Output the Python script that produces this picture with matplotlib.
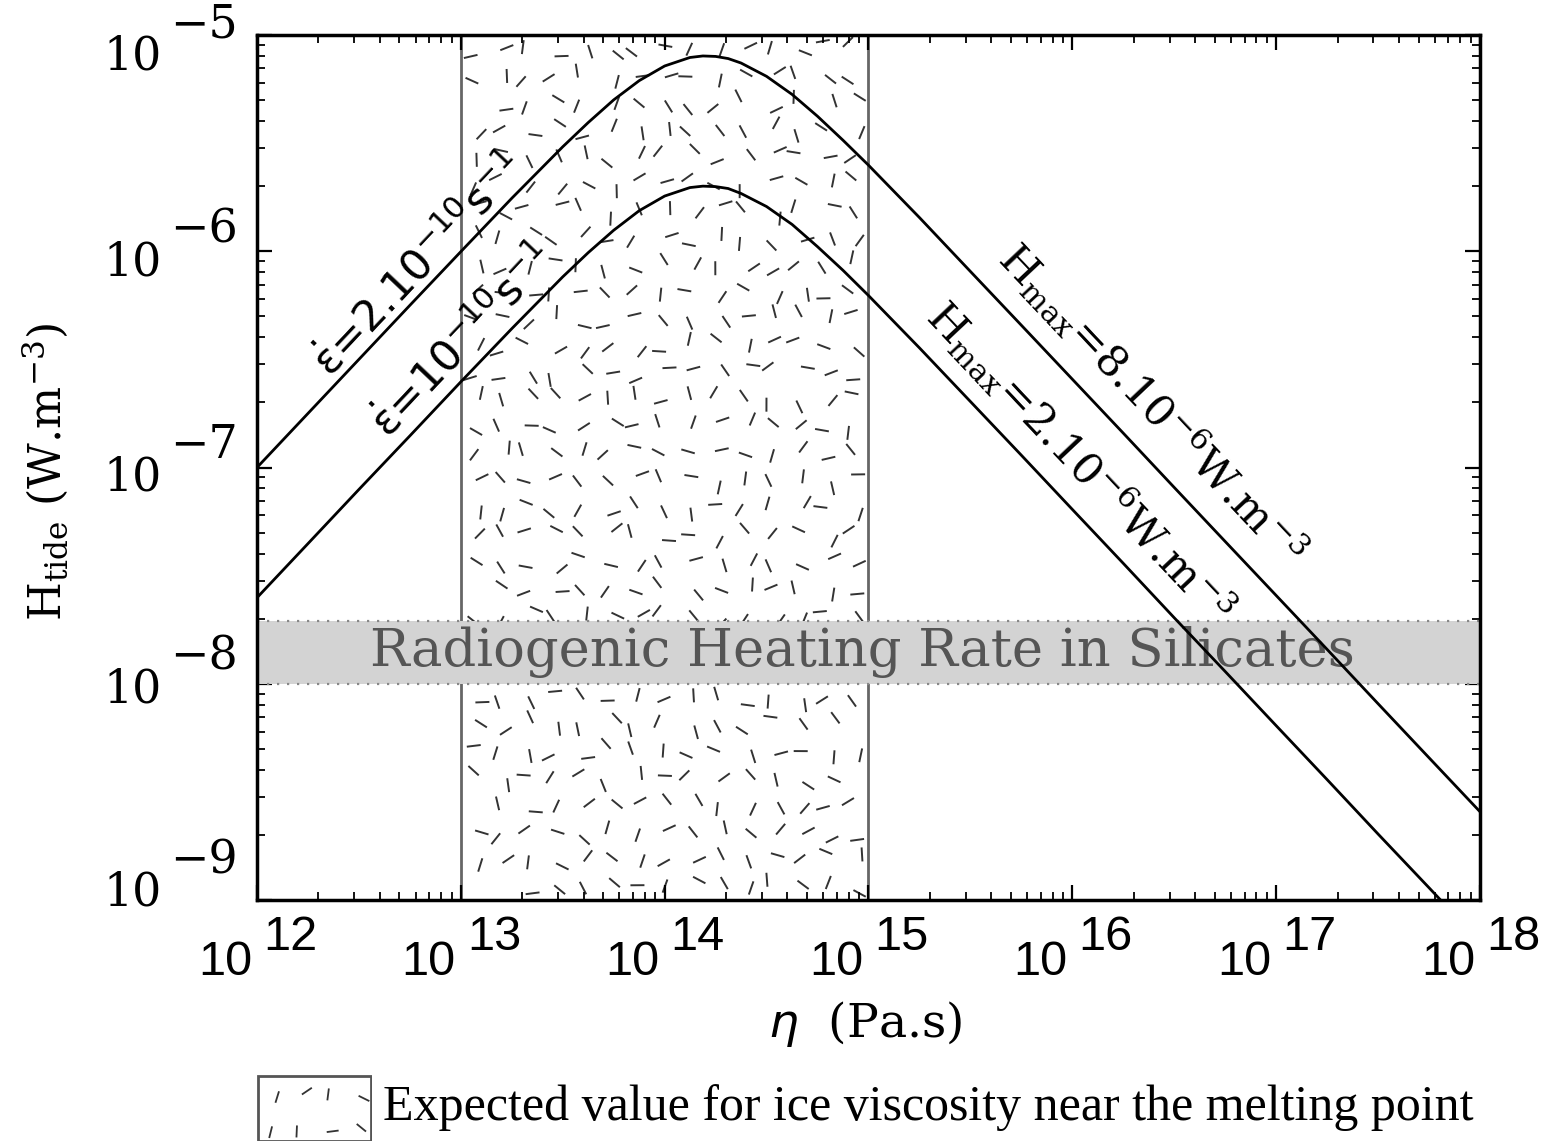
import numpy as np
import matplotlib
matplotlib.use("Agg")
import matplotlib.pyplot as plt
from matplotlib.collections import LineCollection
from matplotlib.patches import Rectangle

plt.rcParams["mathtext.default"] = "regular"

# viscosity (Pa.s)
eta = [1e12, 1.78e12, 3.16e12, 5.62e12, 1e13, 1.78e13, 3.16e13, 4.22e13, 5.62e13,
       7.5e13, 1e14, 1.33e14, 1.54e14, 1.78e14, 2.05e14, 2.37e14, 3.16e14, 4.22e14,
       5.62e14, 7.5e14, 1e15, 1.78e15, 3.16e15, 5.62e15, 1e16, 1.78e16, 3.16e16,
       5.62e16, 1e17, 1.78e17, 3.16e17, 5.62e17, 1e18]
# tidal heating, strain rate 2e-10 s-1 (Hmax = 8e-6)
h_high = [1.00e-7, 1.78e-7, 3.16e-7, 5.62e-7, 9.96e-7, 1.76e-6, 3.04e-6, 3.94e-6, 5.01e-6,
          6.15e-6, 7.19e-6, 7.87e-6, 8.00e-6, 7.96e-6, 7.78e-6, 7.42e-6, 6.44e-6, 5.31e-6,
          4.21e-6, 3.26e-6, 2.50e-6, 1.43e-6, 8.07e-7, 4.55e-7, 2.56e-7, 1.44e-7, 8.09e-8,
          4.55e-8, 2.56e-8, 1.44e-8, 8.09e-9, 4.55e-9, 2.56e-9]
# tidal heating, strain rate 1e-10 s-1 (Hmax = 2e-6)
h_low = [2.50e-8, 4.45e-8, 7.91e-8, 1.40e-7, 2.49e-7, 4.39e-7, 7.61e-7, 9.86e-7, 1.25e-6,
         1.54e-6, 1.80e-6, 1.97e-6, 2.00e-6, 1.99e-6, 1.95e-6, 1.85e-6, 1.61e-6, 1.33e-6,
         1.05e-6, 8.16e-7, 6.24e-7, 3.57e-7, 2.02e-7, 1.14e-7, 6.40e-8, 3.60e-8, 2.02e-8,
         1.14e-8, 6.40e-9, 3.60e-9, 2.02e-9, 1.14e-9, 6.40e-10]

ice_range = [1e13, 1e15]          # expected ice viscosity near melting point
radio_band = [1e-8, 1.95e-8]      # radiogenic heating in silicates
x_exps = [12, 13, 14, 15, 16, 17, 18]
y_exps = [-5, -6, -7, -8, -9]

W, H = 1548, 1141
fig = plt.figure(figsize=(W / 100, H / 100), dpi=100)
ax = fig.add_axes([257 / W, 1 - 900 / H, 1223 / W, 865 / H])
ax.set_xscale("log")
ax.set_yscale("log")
ax.set_xlim(1e12, 1e18)
ax.set_ylim(1e-9, 1e-5)

AXW, AXH = 1223.0, 865.0


def _hash(k):
    return (np.sin(k * 12.9898 + 78.233) * 43758.5453) % 1.0


def dash_texture(x0, x1, y0, y1, step=27.0, length=14.0):
    """Scattered short dashes inside a pixel box (pixels relative to the axes)."""
    segs = []
    nx = int((x1 - x0) / step)
    ny = int((y1 - y0) / step)
    for i in range(nx):
        for j in range(ny):
            k = i * 131 + j * 17 + 3
            cx = x0 + (i + 0.5) * (x1 - x0) / nx + (_hash(k) - 0.5) * 16
            cy = y0 + (j + 0.5) * (y1 - y0) / ny + (_hash(k + 7) - 0.5) * 16
            a = _hash(k + 13) * np.pi
            dx, dy = 0.5 * length * np.cos(a), 0.5 * length * np.sin(a)
            if cx - abs(dx) < x0 + 2 or cx + abs(dx) > x1 - 2:
                continue
            if cy - abs(dy) < y0 + 2 or cy + abs(dy) > y1 - 2:
                continue
            segs.append([(cx - dx, cy - dy), (cx + dx, cy + dy)])
    return segs


# hatched ice-viscosity region (axes fraction)
xa0 = (np.log10(ice_range[0]) - 12) / 6 * AXW
xa1 = (np.log10(ice_range[1]) - 12) / 6 * AXW
segs = dash_texture(xa0, xa1, 0, AXH)
segs = [[(p[0] / AXW, p[1] / AXH) for p in s] for s in segs]
ax.add_collection(LineCollection(segs, colors="#333333", linewidths=1.4,
                                 transform=ax.transAxes, zorder=1))
for v in ice_range:
    ax.axvline(v, color="#666666", lw=2, zorder=1.5)

# radiogenic band
ax.axhspan(radio_band[0], radio_band[1], color="#d3d3d3", lw=0, zorder=2)
for v in radio_band:
    ax.axhline(v, color="#888888", lw=1.6, ls=(0, (1, 3.5)), zorder=2.1)
ax.text(np.sqrt(1e12 * 1e18) * 0.93, np.sqrt(radio_band[0] * radio_band[1]),
        "Radiogenic Heating Rate in Silicates", family="DejaVu Serif",
        fontsize=38, color="#555555", ha="center", va="center", zorder=2.5)

ax.plot(eta, h_high, color="black", lw=2, zorder=3)
ax.plot(eta, h_low, color="black", lw=2, zorder=3)


def px2data(px, py):
    lx = 12 + (px - 257) / AXW * 6
    ly = -5 - (py - 35) / AXH * 4
    return 10 ** lx, 10 ** ly


ang = np.degrees(np.arctan((AXH / 4) / (AXW / 6)))

lab_kw = dict(ha="center", va="center", rotation_mode="anchor", zorder=4)
ax.text(*px2data(420, 266), r"$\dot{\varepsilon}$=2.10$^{-10}$s$^{-1}$",
        rotation=ang, fontsize=31, family="DejaVu Sans", **lab_kw)
ax.text(*px2data(463, 342), r"$\dot{\varepsilon}$=10$^{-10}$s$^{-1}$",
        rotation=ang, fontsize=31, family="DejaVu Sans", **lab_kw)
ax.text(*px2data(1152, 404), r"H$_{max}$=8.10$^{-6}$W.m$^{-3}$",
        rotation=-ang, fontsize=31, family="DejaVu Serif", **lab_kw)
ax.text(*px2data(1080, 462), r"H$_{max}$=2.10$^{-6}$W.m$^{-3}$",
        rotation=-ang, fontsize=31, family="DejaVu Serif", **lab_kw)

# axes frame and ticks
for sp in ax.spines.values():
    sp.set_linewidth(2.5)
ax.tick_params(which="both", direction="in", top=True, right=True,
               labelbottom=False, labelleft=False)
ax.tick_params(which="major", length=11, width=1.6)
ax.tick_params(which="minor", length=6, width=1.3)

# IDL-style tick labels: exponent at full size
for e in x_exps:
    ax.annotate("10", xy=(10.0 ** e, 0), xycoords=("data", "axes fraction"),
                xytext=(-5, -75), textcoords="offset pixels", ha="right",
                va="baseline", fontsize=35, family="Liberation Sans", annotation_clip=False)
    ax.annotate(str(e), xy=(10.0 ** e, 0), xycoords=("data", "axes fraction"),
                xytext=(6, -50), textcoords="offset pixels", ha="left",
                va="baseline", fontsize=35, family="Liberation Sans", annotation_clip=False)
# the scanned labels sit slightly differently against each tick
y_shift = [0, -11, -12, -16, -29]
for e, s in zip(y_exps, y_shift):
    ax.annotate("10", xy=(0, 10.0 ** e), xycoords=("axes fraction", "data"),
                xytext=(-95, -35 - s), textcoords="offset pixels", ha="right",
                va="baseline", fontsize=33, family="DejaVu Serif", annotation_clip=False)
    ax.annotate("\u2212" + str(-e), xy=(0, 10.0 ** e), xycoords=("axes fraction", "data"),
                xytext=(-87, -2 - s), textcoords="offset pixels", ha="left",
                va="baseline", fontsize=33, family="DejaVu Serif", annotation_clip=False)

fig.text(865 / W, 1 - 1024 / H, r"$\mathit{\eta}$  (Pa.s)", family="DejaVu Serif",
         fontsize=34, ha="center", va="center")
fig.text(45 / W, 1 - 472 / H, r"H$_{tide}$ (W.m$^{-3}$)", family="DejaVu Serif",
         fontsize=32, rotation=90, ha="center", va="center")

# legend swatch
lax = fig.add_axes([257 / W, 0, 115 / W, 66 / H])
lax.set_xlim(0, 115)
lax.set_ylim(0, 66)
lax.axis("off")
lax.add_patch(Rectangle((1, 0), 113, 65, fill=False, ec="#555555", lw=2))
lsegs = dash_texture(0, 115, 0, 66, step=24, length=12)
lax.add_collection(LineCollection(lsegs, colors="#333333", linewidths=1.3))
fig.text(383 / W, 1 - 1108 / H, "Expected value for ice viscosity near the melting point",
         family="Liberation Serif", fontsize=36, ha="left", va="center")

fig.savefig("out.png", dpi=100)
